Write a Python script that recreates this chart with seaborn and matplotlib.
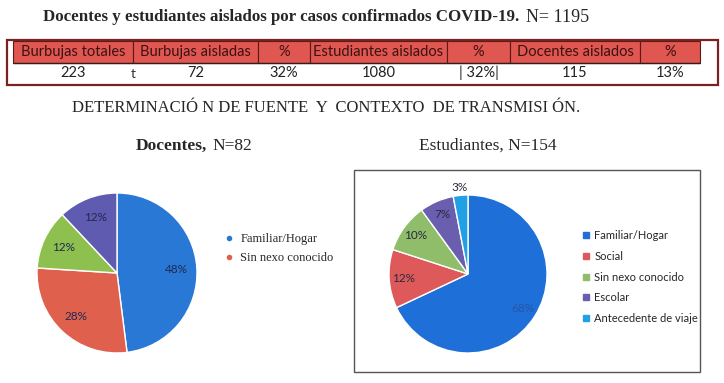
import numpy as np
import matplotlib
matplotlib.use("Agg")
import matplotlib.pyplot as plt
from matplotlib.lines import Line2D
from matplotlib.patches import Rectangle
import seaborn as sns

# ── data ─────────────────────────────────────────────────────────────────────
table_headers = ["Burbujas totales", "Burbujas aisladas", "%",
                 "Estudiantes aislados", "%", "Docentes aislados", "%"]
table_values = ["223", "72", "32%", "1080", "| 32%|", "115", "13%"]

doc_labels = ["Familiar/Hogar", "Sin nexo conocido", "Sin nexo", "Escolar"]
doc_pct = [48, 28, 12, 12]
doc_legend = ["Familiar/Hogar", "Sin nexo conocido"]

est_labels = ["Familiar/Hogar", "Social", "Sin nexo conocido", "Escolar",
              "Antecedente de viaje"]
est_pct = [68, 12, 10, 7, 3]

doc_colors = ["#2a78d6", "#e0604e", "#8dc04e", "#5e5bb0"]
est_colors = ["#1f6fd8", "#de5a5a", "#8fbd6a", "#6a5fae", "#22a0e6"]

sns.set_theme(style="white")
plt.rcParams["font.family"] = ["Liberation Serif", "DejaVu Serif"]

W, H = 724, 383
fig = plt.figure(figsize=(W / 100, H / 100), dpi=100)
fig.patch.set_facecolor("white")


def px(x, y):
    return x / W, 1 - y / H


def box(x0, y0, x1, y1):
    return [x0 / W, 1 - y1 / H, (x1 - x0) / W, (y1 - y0) / H]


# ── titles ───────────────────────────────────────────────────────────────────
fig.text(*px(519, 17), "Docentes y estudiantes aislados por casos confirmados COVID-19.",
         ha="right", va="center", fontsize=12.2, fontweight="bold")
fig.text(*px(526, 17), "N= 1195", ha="left", va="center", fontsize=13)
fig.text(*px(326, 108), "DETERMINACIÓ N DE FUENTE  Y  CONTEXTO  DE TRANSMISI ÓN.",
         ha="center", va="center", fontsize=12)
fig.text(*px(207, 146), "Docentes,", ha="right", va="center",
         fontsize=12.5, fontweight="bold")
fig.text(*px(212, 146), "N=82", ha="left", va="center", fontsize=12.5)
fig.text(*px(488, 146), "Estudiantes, N=154", ha="center", va="center", fontsize=12.5)

# ── table ────────────────────────────────────────────────────────────────────
ax_t = fig.add_axes(box(7, 40, 718, 85))
ax_t.axis("off")
ax_t.add_patch(Rectangle((0, 0), 1, 1, transform=ax_t.transAxes, fill=False,
                         ec="#7a2222", lw=1.6, clip_on=False))
col_w = np.array([120, 125, 52, 137, 63, 130, 60]) / 711
tbl = ax_t.table(cellText=[table_values], colLabels=table_headers,
                 colWidths=list(col_w), cellLoc="center",
                 bbox=[6 / 711, 0.03, col_w.sum(), 0.94])
tbl.auto_set_font_size(False)
tbl.set_fontsize(10.5)
for (r, c), cell in tbl.get_celld().items():
    cell.get_text().set_fontfamily(["Lato", "DejaVu Sans"])
    if r == 0:
        cell.set_facecolor("#e05650")
        cell.set_edgecolor("#5a1a1a")
        cell.set_linewidth(0.8)
        cell.get_text().set_color("#3a1212")
    else:
        cell.set_facecolor("white")
        cell.visible_edges = "T"
        cell.set_edgecolor("#3a1a1a")
        cell.set_linewidth(1.0)
        cell.get_text().set_color("#222222")
ax_t.text(126 / 711, 0.25, "t", ha="center", va="center", fontsize=10,
          family=["Lato", "DejaVu Sans"], color="#333333")

# ── left pie: Docentes ───────────────────────────────────────────────────────
ax_l = fig.add_axes(box(37, 193, 197, 353))
wedges_l, _, auto_l = ax_l.pie(doc_pct, colors=doc_colors, startangle=90,
                               counterclock=False, autopct="%d%%",
                               pctdistance=0.74,
                               wedgeprops=dict(edgecolor="white", linewidth=1))
ax_l.set_xlim(-1, 1)
ax_l.set_ylim(-1, 1)
for t in auto_l:
    t.set_fontfamily(["Lato", "DejaVu Sans"])
    t.set_fontsize(8.5)
    t.set_color("#1f2a50")

handles_l = [Line2D([], [], marker="o", ls="", color=c, markersize=3)
             for c in doc_colors[:2]]
fig.legend(handles_l, doc_legend, loc="upper left",
           bbox_to_anchor=px(224, 233), frameon=False, fontsize=9,
           handlelength=0.8, handletextpad=0.5, labelspacing=0.55,
           borderaxespad=0, borderpad=0)

# ── right panel: Estudiantes ────────────────────────────────────────────────
fig.patches.append(Rectangle(px(354, 372), (700 - 354) / W, (372 - 170) / H,
                             transform=fig.transFigure, fill=False,
                             ec="#555555", lw=1.0))
ax_r = fig.add_axes(box(389, 195, 547, 353))
wedges_r, _, auto_r = ax_r.pie(est_pct, colors=est_colors, startangle=90,
                               counterclock=False, autopct="%d%%",
                               pctdistance=0.82,
                               wedgeprops=dict(edgecolor="white", linewidth=1))
ax_r.set_xlim(-1, 1)
ax_r.set_ylim(-1, 1)
for t in auto_r:
    t.set_fontfamily(["Lato", "DejaVu Sans"])
    t.set_fontsize(8.5)
    t.set_color("#2a2a40")
auto_r[0].set_color("#2456a8")
x3, y3 = auto_r[-1].get_position()
auto_r[-1].set_position((x3 * 1.1 / 0.82, y3 * 1.1 / 0.82))

handles_r = [Line2D([], [], marker="s", ls="", color=c, markersize=4)
             for c in est_colors]
fig.legend(handles_r, est_labels, loc="upper left",
           bbox_to_anchor=px(583, 230), frameon=False,
           prop=dict(family=["Lato", "DejaVu Sans"], size=8.0),
           handlelength=0.6, handletextpad=0.4, labelspacing=0.88,
           borderaxespad=0, borderpad=0)

fig.savefig("out.png", dpi=100, facecolor="white")
